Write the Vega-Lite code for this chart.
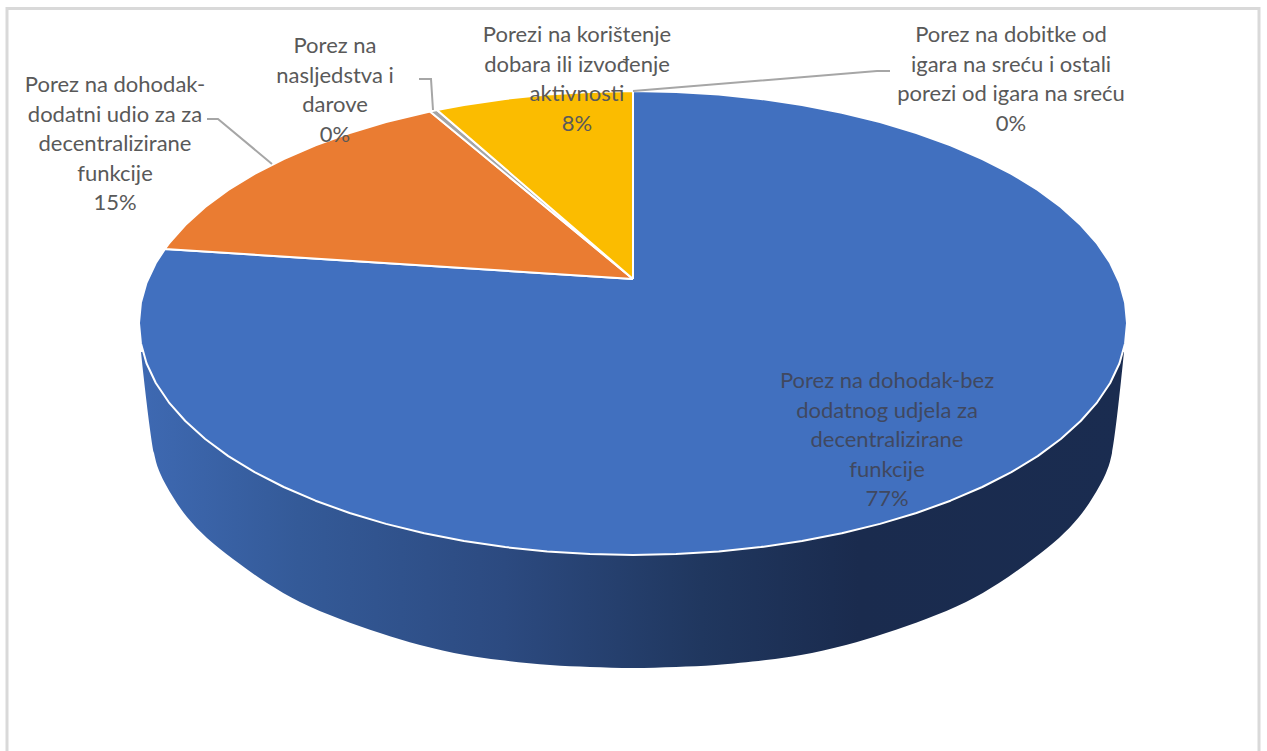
{"$schema":"https://vega.github.io/schema/vega-lite/v6.json","width":1267,"height":751,"padding":0,"autosize":{"type":"none"},"background":"white","config":{"view":{"stroke":null}},
"datasets":{
"frame":[{"x":7,"y":751,"i":0},{"x":7,"y":8.5,"i":1},{"x":1259,"y":8.5,"i":2},{"x":1259,"y":751,"i":3}],
"wall":[{"x":141,"y":352,"i":0},{"x":154,"y":453,"i":1},{"x":160,"y":473,"i":2},{"x":173,"y":497,"i":3},{"x":187,"y":517,"i":4},{"x":207,"y":538,"i":5},{"x":233,"y":559,"i":6},{"x":267,"y":583,"i":7},{"x":300,"y":602,"i":8},{"x":340,"y":619,"i":9},{"x":380,"y":633,"i":10},{"x":420,"y":645,"i":11},{"x":465,"y":655,"i":12},{"x":500,"y":660,"i":13},{"x":550,"y":665,"i":14},{"x":590,"y":667,"i":15},{"x":633,"y":668,"i":16},{"x":676,"y":667,"i":17},{"x":716,"y":665,"i":18},{"x":766,"y":660,"i":19},{"x":801,"y":655,"i":20},{"x":846,"y":645,"i":21},{"x":886,"y":633,"i":22},{"x":926,"y":619,"i":23},{"x":966,"y":602,"i":24},{"x":999,"y":583,"i":25},{"x":1033,"y":559,"i":26},{"x":1059,"y":538,"i":27},{"x":1079,"y":517,"i":28},{"x":1093,"y":497,"i":29},{"x":1106,"y":473,"i":30},{"x":1112,"y":453,"i":31},{"x":1124,"y":352,"i":32}],
"slices":[
{"s":"a","x":633,"y":279,"i":0},{"s":"a","x":633,"y":91,"i":1},{"s":"a","x":676.1,"y":91.9,"i":2},{"s":"a","x":718.8,"y":94.5,"i":3},{"s":"a","x":760.8,"y":98.9,"i":4},{"s":"a","x":802,"y":105,"i":5},{"s":"a","x":841.8,"y":112.7,"i":6},{"s":"a","x":880,"y":122.1,"i":7},{"s":"a","x":916.4,"y":133,"i":8},{"s":"a","x":950.5,"y":145.3,"i":9},{"s":"a","x":982.3,"y":159,"i":10},{"s":"a","x":1011.4,"y":173.9,"i":11},{"s":"a","x":1037.7,"y":189.9,"i":12},{"s":"a","x":1060.8,"y":207,"i":13},{"s":"a","x":1080.7,"y":225,"i":14},{"s":"a","x":1097.2,"y":243.7,"i":15},{"s":"a","x":1110.2,"y":263,"i":16},{"s":"a","x":1119.5,"y":282.7,"i":17},{"s":"a","x":1125.1,"y":302.8,"i":18},{"s":"a","x":1127,"y":323,"i":19},{"s":"a","x":1125.1,"y":343.2,"i":20},{"s":"a","x":1119.5,"y":363.3,"i":21},{"s":"a","x":1110.2,"y":383,"i":22},{"s":"a","x":1097.2,"y":402.3,"i":23},{"s":"a","x":1080.7,"y":421,"i":24},{"s":"a","x":1060.8,"y":439,"i":25},{"s":"a","x":1037.7,"y":456.1,"i":26},{"s":"a","x":1011.4,"y":472.1,"i":27},{"s":"a","x":982.3,"y":487,"i":28},{"s":"a","x":950.5,"y":500.7,"i":29},{"s":"a","x":916.4,"y":513,"i":30},{"s":"a","x":880,"y":523.9,"i":31},{"s":"a","x":841.8,"y":533.3,"i":32},{"s":"a","x":802,"y":541,"i":33},{"s":"a","x":760.8,"y":547.1,"i":34},{"s":"a","x":718.8,"y":551.5,"i":35},{"s":"a","x":676.1,"y":554.1,"i":36},{"s":"a","x":633,"y":555,"i":37},{"s":"a","x":589.9,"y":554.1,"i":38},{"s":"a","x":547.2,"y":551.5,"i":39},{"s":"a","x":505.2,"y":547.1,"i":40},{"s":"a","x":464,"y":541,"i":41},{"s":"a","x":424.2,"y":533.3,"i":42},{"s":"a","x":386,"y":523.9,"i":43},{"s":"a","x":349.6,"y":513,"i":44},{"s":"a","x":315.5,"y":500.7,"i":45},{"s":"a","x":283.7,"y":487,"i":46},{"s":"a","x":254.6,"y":472.1,"i":47},{"s":"a","x":228.3,"y":456.1,"i":48},{"s":"a","x":205.2,"y":439,"i":49},{"s":"a","x":185.3,"y":421,"i":50},{"s":"a","x":168.8,"y":402.3,"i":51},{"s":"a","x":155.8,"y":383,"i":52},{"s":"a","x":146.5,"y":363.3,"i":53},{"s":"a","x":140.9,"y":343.2,"i":54},{"s":"a","x":139,"y":323,"i":55},{"s":"a","x":140.9,"y":302.8,"i":56},{"s":"a","x":146.5,"y":282.7,"i":57},{"s":"a","x":155.8,"y":263,"i":58},{"s":"a","x":165,"y":249,"i":59},{"s":"a","x":633,"y":279,"i":60},
{"s":"b","x":633,"y":279,"i":0},{"s":"b","x":165,"y":249,"i":1},{"s":"b","x":168.8,"y":243.7,"i":2},{"s":"b","x":185.3,"y":225,"i":3},{"s":"b","x":205.2,"y":207,"i":4},{"s":"b","x":228.3,"y":189.9,"i":5},{"s":"b","x":254.6,"y":173.9,"i":6},{"s":"b","x":283.7,"y":159,"i":7},{"s":"b","x":315.5,"y":145.3,"i":8},{"s":"b","x":349.6,"y":133,"i":9},{"s":"b","x":386,"y":122.1,"i":10},{"s":"b","x":430,"y":111.5,"i":11},{"s":"b","x":633,"y":279,"i":12},
{"s":"c","x":633,"y":279,"i":0},{"s":"c","x":430,"y":111.5,"i":1},{"s":"c","x":437,"y":110,"i":2},{"s":"c","x":633,"y":279,"i":3},
{"s":"d","x":633,"y":279,"i":0},{"s":"d","x":437,"y":110,"i":1},{"s":"d","x":464,"y":105,"i":2},{"s":"d","x":505.2,"y":98.9,"i":3},{"s":"d","x":547.2,"y":94.5,"i":4},{"s":"d","x":589.9,"y":91.9,"i":5},{"s":"d","x":633,"y":91,"i":6},{"s":"d","x":633,"y":279,"i":7}],
"leaders":[
{"s":"b","x":207,"y":119,"i":0},{"s":"b","x":218,"y":119,"i":1},{"s":"b","x":272,"y":164,"i":2},
{"s":"c","x":419,"y":79,"i":0},{"s":"c","x":431,"y":79,"i":1},{"s":"c","x":433,"y":110,"i":2},
{"s":"e","x":890,"y":71,"i":0},{"s":"e","x":877,"y":71,"i":1},{"s":"e","x":633,"y":91,"i":2}],
"labels":[
{"label":"Porez na dohodak-bez\ndodatnog udjela za\ndecentralizirane\nfunkcije\n77%","share":77,"x":887,"y":381,"tone":"on"},
{"label":"Porez na dohodak-\ndodatni udio za za\ndecentralizirane\nfunkcije\n15%","share":15,"x":115,"y":85,"tone":"off"},
{"label":"Porez na\nnasljedstva i\ndarove\n0%","share":0,"x":335,"y":46,"tone":"off"},
{"label":"Porezi na korištenje\ndobara ili izvođenje\naktivnosti\n8%","share":8,"x":577,"y":35,"tone":"off"},
{"label":"Porez na dobitke od\nigara na sreću i ostali\nporezi od igara na sreću\n0%","share":0,"x":1011,"y":35,"tone":"off"}]},
"encoding":{"x":{"field":"x","type":"quantitative","axis":null,"scale":{"domain":[0,1267],"nice":false,"zero":false}},"y":{"field":"y","type":"quantitative","axis":null,"scale":{"domain":[751,0],"nice":false,"zero":false}}},
"layer":[
{"data":{"name":"frame"},"mark":{"type":"line","stroke":"#d9d9d9","strokeWidth":3},"encoding":{"order":{"field":"i"}}},
{"data":{"name":"wall"},"mark":{"type":"line","interpolate":"catmull-rom","strokeWidth":0,"fill":{"gradient":"linear","x1":0,"y1":0,"x2":1,"y2":0,"stops":[{"offset":0,"color":"#3e69b2"},{"offset":0.16,"color":"#345a98"},{"offset":0.37,"color":"#2c4a80"},{"offset":0.57,"color":"#20375f"},{"offset":0.73,"color":"#1a2b4e"},{"offset":1,"color":"#1a2c50"}]}},"encoding":{"order":{"field":"i"}}},
{"data":{"name":"slices"},"mark":{"type":"line","filled":true,"stroke":"white","strokeWidth":2,"strokeJoin":"round"},"encoding":{"order":{"field":"i"},"detail":{"field":"s"},"color":{"field":"s","type":"nominal","legend":null,"scale":{"domain":["a","b","c","d"],"range":["#4170bf","#ea7c32","#a5a5a5","#fbbc00"]}}}},
{"data":{"name":"leaders"},"mark":{"type":"line","stroke":"#a6a6a6","strokeWidth":2},"encoding":{"order":{"field":"i"},"detail":{"field":"s"}}},
{"data":{"name":"labels"},"mark":{"type":"text","font":"Lato","fontSize":22,"lineBreak":"\n","lineHeight":29.5,"align":"center","baseline":"middle"},"encoding":{"text":{"field":"label"},"color":{"field":"tone","type":"nominal","legend":null,"scale":{"domain":["on","off"],"range":["#404860","#595959"]}}}}
],
"resolve":{"scale":{"color":"independent"}}}
